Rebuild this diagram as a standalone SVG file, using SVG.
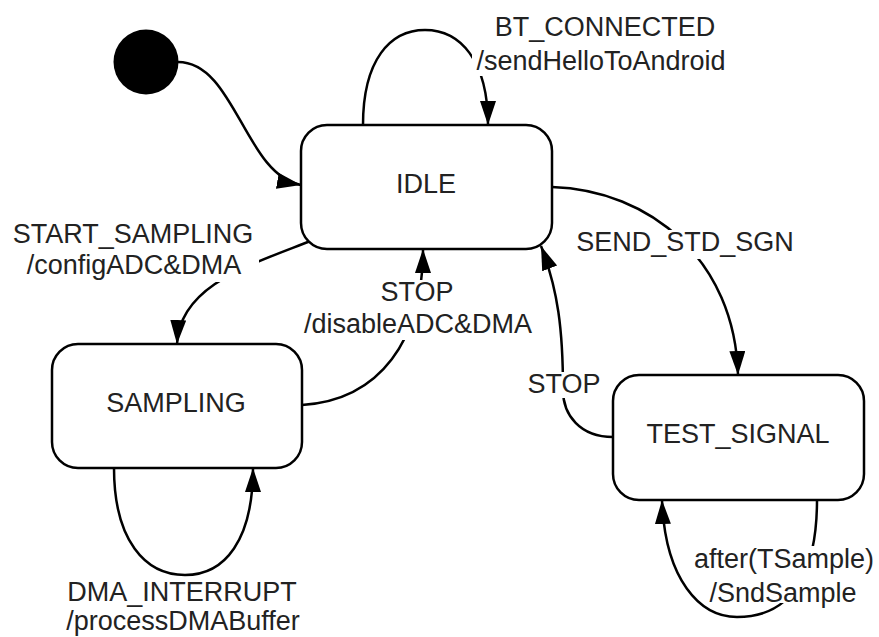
<svg xmlns="http://www.w3.org/2000/svg" width="879" height="637" viewBox="0 0 879 637">
<style>
.state{fill:#fff;stroke:#000;stroke-width:2.5}
.lbl{font-family:"Liberation Sans",Arial,sans-serif;font-size:27px;fill:#222;text-anchor:middle}
.edge{fill:none;stroke:#000;stroke-width:2.5}
.bg{fill:#fff;stroke:none}
</style>
<defs>
<marker id="arr" markerUnits="userSpaceOnUse" markerWidth="26" markerHeight="18" refX="24" refY="8" orient="auto">
<path d="M0,0 L24,8 L0,16 z" fill="#000"/>
</marker>
</defs>
<g id="connectors">
<path class="edge" d="M178,62 C235,62 245,175 301,185" marker-end="url(#arr)"/>
<path class="edge" d="M363,125 C363,60 390,30 425,30 C460,30 488,60 488,125" marker-end="url(#arr)"/>
<path class="edge" d="M313,240 C250,265 180,285 177,344" marker-end="url(#arr)"/>
<path class="edge" d="M302,405 C380,400 423,340 423,249" marker-end="url(#arr)"/>
<path class="edge" d="M552,187 C650,190 735,260 738,375" marker-end="url(#arr)"/>
<path class="edge" d="M613,437 C580,437 563,415 563,390 C563,330 558,290 541,246" marker-end="url(#arr)"/>
<path class="edge" d="M114,468 C114,540 145,575 185,575 C225,575 253,540 253,468" marker-end="url(#arr)"/>
<path class="edge" d="M817,500 C817,560 800,617 737,617 C700,617 665,580 662,500" marker-end="url(#arr)"/>
</g>
<g id="labels">
<rect class="bg" x="472" y="14" width="265" height="62"/>
<text class="lbl" x="605" y="36">BT_CONNECTED</text>
<text class="lbl" x="601" y="70">/sendHelloToAndroid</text>
<rect class="bg" x="8" y="222" width="251" height="60"/>
<text class="lbl" x="133" y="243">START_SAMPLING</text>
<text class="lbl" x="134" y="274">/configADC&amp;DMA</text>
<rect class="bg" x="298" y="280" width="241" height="60"/>
<text class="lbl" x="417" y="301">STOP</text>
<text class="lbl" x="418" y="333">/disableADC&amp;DMA</text>
<rect class="bg" x="571" y="230" width="228" height="29"/>
<text class="lbl" x="685" y="251">SEND_STD_SGN</text>
<rect class="bg" x="526" y="372" width="76" height="26"/>
<text class="lbl" x="564" y="393">STOP</text>
<text class="lbl" x="182" y="601">DMA_INTERRUPT</text>
<text class="lbl" x="183" y="630">/processDMABuffer</text>
<rect class="bg" x="691" y="546" width="186" height="29"/>
<rect class="bg" x="703" y="575" width="174" height="28"/>
<text class="lbl" x="784" y="568">after(TSample)</text>
<text class="lbl" x="783" y="602">/SndSample</text>
</g>
<g id="initial">
<circle cx="146" cy="62" r="32.5" fill="#000"/>
</g>
<g id="idle">
<rect class="state" x="301" y="125" width="251" height="124" rx="26"/>
<text class="lbl" x="426" y="193">IDLE</text>
</g>
<g id="sampling">
<rect class="state" x="52" y="344" width="250" height="124" rx="26"/>
<text class="lbl" x="176" y="412">SAMPLING</text>
</g>
<g id="test_signal">
<rect class="state" x="613" y="375" width="251" height="125" rx="26"/>
<text class="lbl" x="738" y="443">TEST_SIGNAL</text>
</g>
</svg>
